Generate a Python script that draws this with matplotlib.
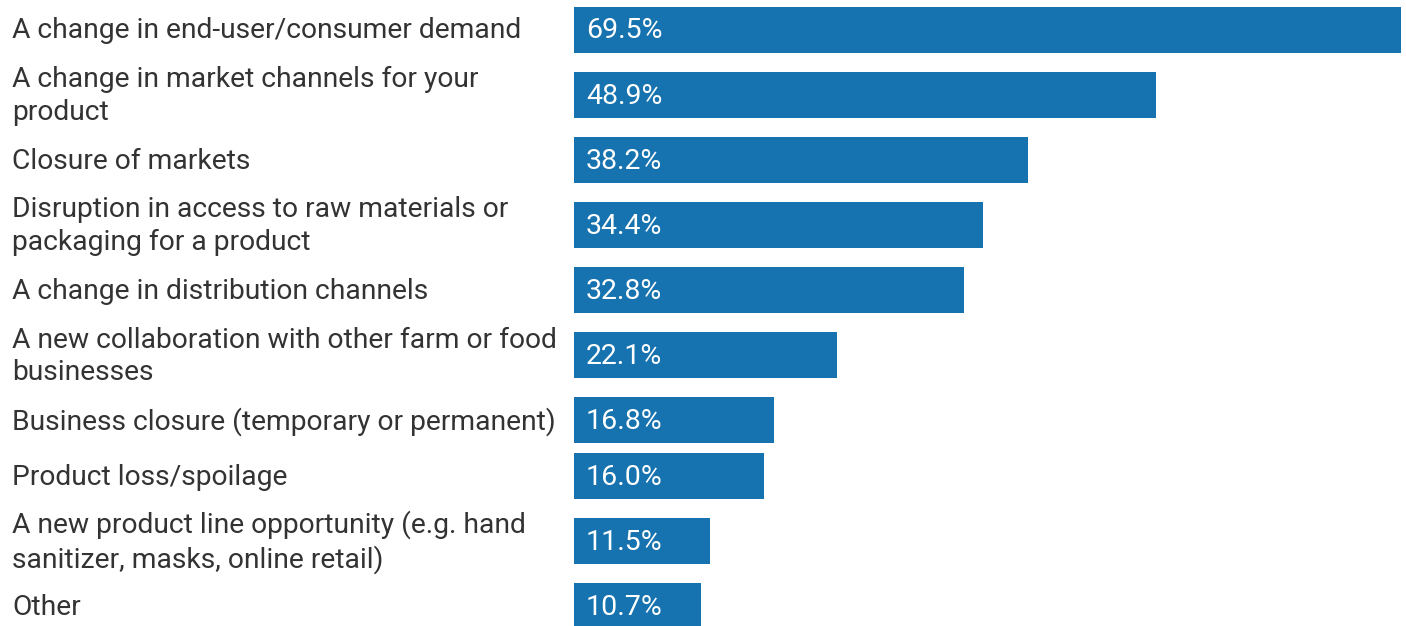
import matplotlib.pyplot as plt
from matplotlib import transforms

categories = [
    "A change in end-user/consumer demand",
    "A change in market channels for your\nproduct",
    "Closure of markets",
    "Disruption in access to raw materials or\npackaging for a product",
    "A change in distribution channels",
    "A new collaboration with other farm or food\nbusinesses",
    "Business closure (temporary or permanent)",
    "Product loss/spoilage",
    "A new product line opportunity (e.g. hand\nsanitizer, masks, online retail)",
    "Other",
]
values = [69.5, 48.9, 38.2, 34.4, 32.8, 22.1, 16.8, 16.0, 11.5, 10.7]

BAR_COLOR = '#1673af'
TEXT_COLOR = '#333333'
W, H = 1406, 626

plt.rcParams['font.family'] = ['Roboto', 'DejaVu Sans']

# rows with two-line labels are taller than the bar itself
bar_h = 46
row_gap = 9.6
centers = []
top = 6.5
for lab in categories:
    n_lines = lab.count('\n') + 1
    row_h = bar_h if n_lines == 1 else 65
    centers.append(top + row_h / 2)
    top += row_h + row_gap

fig = plt.figure(figsize=(W / 100, H / 100), dpi=100)
ax = fig.add_axes([573.5 / W, 0, (1401 - 573.5) / W, 1])
ax.barh(centers, values, height=bar_h, color=BAR_COLOR)
ax.set_xlim(0, max(values))
ax.set_ylim(H, 0)
ax.axis('off')

for c, v in zip(centers, values):
    ax.text(1.05, c + 1.5, f"{v:.1f}%", color='white', fontsize=20.5,
            ha='left', va='center')

trans = transforms.blended_transform_factory(fig.transFigure, ax.transData)
for c, lab in zip(centers, categories):
    fig.text(12 / W, c + 1.5, lab, transform=trans, color=TEXT_COLOR,
             fontsize=20.3, ha='left', va='center', linespacing=1.27)

fig.savefig('out.png', dpi=100)
